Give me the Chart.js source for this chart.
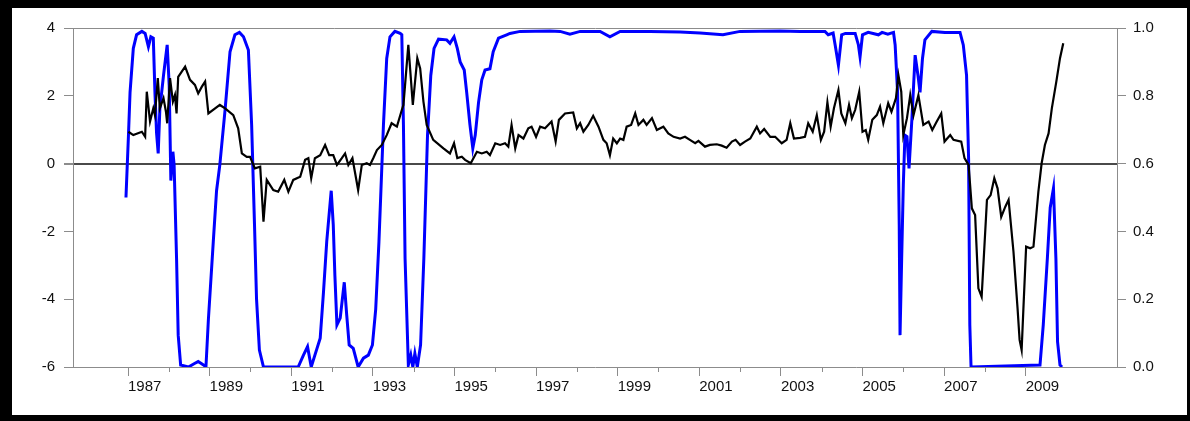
<!DOCTYPE html>
<html>
<head>
<meta charset="utf-8">
<script src="https://cdn.jsdelivr.net/npm/chart.js@4/dist/chart.umd.min.js"></script>
<style>
  html, body { margin: 0; padding: 0; background: #fff; }
  #wrap { width: 1190px; height: 421px; }
</style>
</head>
<body>
<div id="wrap"><canvas id="chart" width="1190" height="421"></canvas></div>
<script>
// Black series (left axis), decimal years and values
const blackYears = [
  1987.01, 1987.13, 1987.34, 1987.42, 1987.46, 1987.54, 1987.62, 1987.66, 1987.73, 1987.78,
  1987.87, 1987.93, 1987.96, 1988.03, 1988.10, 1988.15, 1988.19, 1988.23, 1988.40, 1988.52,
  1988.64, 1988.72, 1988.81, 1988.89, 1988.97, 1989.25, 1989.38, 1989.58, 1989.70, 1989.79,
  1989.91, 1989.99, 1990.11, 1990.24, 1990.32, 1990.40, 1990.56, 1990.68, 1990.83, 1990.93,
  1991.05, 1991.22, 1991.34, 1991.42, 1991.49, 1991.58, 1991.71, 1991.83, 1991.93, 1992.03,
  1992.12, 1992.24, 1992.32, 1992.40, 1992.50, 1992.56, 1992.64, 1992.73, 1992.85, 1992.93,
  1993.01, 1993.10, 1993.22, 1993.34, 1993.46, 1993.59, 1993.71, 1993.75, 1993.87, 1993.98,
  1994.09, 1994.16, 1994.24, 1994.32, 1994.48, 1994.73, 1994.89, 1994.99, 1995.07, 1995.18,
  1995.26, 1995.40, 1995.55, 1995.67, 1995.79, 1995.87, 1996.00, 1996.12, 1996.24, 1996.32,
  1996.40, 1996.49, 1996.57, 1996.69, 1996.81, 1996.89, 1997.00, 1997.10, 1997.22, 1997.38,
  1997.48, 1997.56, 1997.71, 1997.91, 1998.00, 1998.08, 1998.16, 1998.28, 1998.40, 1998.53,
  1998.65, 1998.73, 1998.81, 1998.89, 1998.98, 1999.06, 1999.14, 1999.22, 1999.33, 1999.43,
  1999.51, 1999.63, 1999.71, 1999.84, 1999.96, 2000.12, 2000.24, 2000.37, 2000.53, 2000.65,
  2000.77, 2000.90, 2000.98, 2001.14, 2001.26, 2001.43, 2001.55, 2001.67, 2001.80, 2001.89,
  2002.00, 2002.12, 2002.25, 2002.41, 2002.49, 2002.59, 2002.74, 2002.86, 2003.02, 2003.14,
  2003.23, 2003.32, 2003.47, 2003.59, 2003.67, 2003.78, 2003.88, 2003.98, 2004.06, 2004.14,
  2004.22, 2004.30, 2004.41, 2004.48, 2004.58, 2004.67, 2004.74, 2004.82, 2004.92, 2005.00,
  2005.08, 2005.14, 2005.24, 2005.35, 2005.43, 2005.51, 2005.63, 2005.71, 2005.82, 2005.88,
  2005.95, 2006.00, 2006.09, 2006.17, 2006.25, 2006.37, 2006.49, 2006.62, 2006.71, 2006.82,
  2006.93, 2007.01, 2007.15, 2007.23, 2007.42, 2007.50, 2007.60, 2007.68, 2007.76, 2007.84,
  2007.92, 2008.05, 2008.14, 2008.23, 2008.31, 2008.40, 2008.50, 2008.58, 2008.70, 2008.80,
  2008.85, 2008.90, 2008.94, 2009.01, 2009.11, 2009.19, 2009.31, 2009.39, 2009.47, 2009.56,
  2009.64, 2009.75, 2009.84, 2009.92
];
const blackValues = [
  0.94, 0.84, 0.94, 0.79, 2.12, 1.24, 1.63, 1.43, 2.52, 1.63,
  1.93, 1.53, 1.19, 2.52, 1.83, 2.02, 1.48, 2.56, 2.86, 2.47,
  2.32, 2.07, 2.27, 2.42, 1.48, 1.73, 1.63, 1.43, 1.04, 0.30,
  0.20, 0.20, -0.14, -0.09, -1.71, -0.48, -0.78, -0.83, -0.48, -0.83,
  -0.48, -0.39, 0.11, 0.16, -0.43, 0.16, 0.25, 0.55, 0.25, 0.25,
  -0.04, 0.16, 0.30, -0.04, 0.16, -0.24, -0.78, -0.04, 0.01, -0.04,
  0.16, 0.40, 0.55, 0.84, 1.19, 1.09, 1.58, 1.73, 3.50, 1.73,
  3.11, 2.81, 1.83, 1.14, 0.70, 0.45, 0.30, 0.60, 0.16, 0.20,
  0.11, 0.01, 0.35, 0.30, 0.35, 0.25, 0.60, 0.55, 0.60, 0.50,
  1.14, 0.45, 0.84, 0.74, 1.04, 1.09, 0.79, 1.09, 1.04, 1.24,
  0.65, 1.29, 1.48, 1.51, 1.04, 1.19, 0.94, 1.14, 1.41, 1.09,
  0.70, 0.60, 0.25, 0.74, 0.60, 0.74, 0.70, 1.09, 1.14, 1.48,
  1.14, 1.29, 1.14, 1.34, 0.99, 1.09, 0.89, 0.79, 0.74, 0.79,
  0.70, 0.60, 0.67, 0.50, 0.55, 0.57, 0.53, 0.47, 0.65, 0.70,
  0.55, 0.65, 0.74, 1.09, 0.89, 1.02, 0.79, 0.79, 0.60, 0.70,
  1.19, 0.74, 0.76, 0.79, 1.19, 0.94, 1.43, 0.70, 0.94, 1.81,
  1.09, 1.63, 2.17, 1.48, 1.19, 1.73, 1.34, 1.58, 2.12, 0.94,
  0.99, 0.70, 1.29, 1.43, 1.68, 1.19, 1.78, 1.53, 1.93, 2.61,
  2.12, 0.84, 1.34, 2.02, 1.43, 2.02, 1.14, 1.24, 0.99, 1.24,
  1.48, 0.65, 0.84, 0.70, 0.65, 0.16, -0.04, -1.32, -1.52, -3.68,
  -3.93, -1.07, -0.93, -0.43, -0.73, -1.57, -1.27, -1.07, -2.60, -4.27,
  -5.20, -5.50, -4.37, -2.45, -2.50, -2.45, -0.83, 0.01, 0.55, 0.89,
  1.63, 2.42, 3.11, 3.55
];

// Blue series (right axis, 0..1)
const blueYears = [
  1986.95, 1987.01, 1987.05, 1987.13, 1987.21, 1987.34, 1987.42, 1987.50, 1987.56, 1987.62,
  1987.66, 1987.70, 1987.74, 1987.78, 1987.87, 1987.96, 1988.01, 1988.05, 1988.10, 1988.13,
  1988.19, 1988.23, 1988.29, 1988.48, 1988.64, 1988.72, 1988.85, 1988.91, 1988.97, 1989.09,
  1989.17, 1989.25, 1989.38, 1989.50, 1989.62, 1989.73, 1989.83, 1989.95, 1990.03, 1990.10,
  1990.15, 1990.22, 1990.32, 1991.17, 1991.30, 1991.40, 1991.49, 1991.58, 1991.71, 1991.79,
  1991.87, 1991.98, 1992.03, 1992.07, 1992.12, 1992.20, 1992.30, 1992.36, 1992.42, 1992.52,
  1992.64, 1992.77, 1992.89, 1992.99, 1993.07, 1993.15, 1993.26, 1993.34, 1993.42, 1993.54,
  1993.67, 1993.71, 1993.75, 1993.79, 1993.87, 1993.93, 1993.98, 1994.03, 1994.09, 1994.17,
  1994.25, 1994.34, 1994.42, 1994.50, 1994.61, 1994.81, 1994.89, 1994.99, 1995.07, 1995.14,
  1995.24, 1995.30, 1995.38, 1995.45, 1995.51, 1995.59, 1995.67, 1995.75, 1995.87, 1995.95,
  1996.08, 1996.28, 1996.36, 1996.61, 1997.34, 1997.59, 1997.83, 1998.08, 1998.57, 1998.81,
  1999.06, 1999.79, 2000.53, 2001.02, 2001.58, 2002.00, 2002.98, 2003.47, 2004.08, 2004.16,
  2004.28, 2004.33, 2004.41, 2004.49, 2004.58, 2004.82, 2004.90, 2004.94, 2005.00, 2005.14,
  2005.39, 2005.48, 2005.62, 2005.76, 2005.80, 2005.86, 2005.90, 2005.92, 2005.96, 2006.00,
  2006.04, 2006.09, 2006.14, 2006.21, 2006.29, 2006.36, 2006.41, 2006.47, 2006.53, 2006.70,
  2007.02, 2007.39, 2007.47, 2007.55, 2007.60, 2007.63, 2007.66, 2009.35, 2009.43, 2009.53,
  2009.60, 2009.68, 2009.74, 2009.78, 2009.84, 2009.89
];
const blueProbs = [
  0.50, 0.68, 0.81, 0.94, 0.98, 0.99, 0.984, 0.945, 0.974, 0.97,
  0.81, 0.69, 0.63, 0.76, 0.86, 0.95, 0.83, 0.55, 0.635, 0.596,
  0.32, 0.094, 0.006, 0.0, 0.011, 0.016, 0.006, 0.0, 0.14, 0.37,
  0.52, 0.596, 0.76, 0.93, 0.98, 0.987, 0.974, 0.935, 0.714, 0.42,
  0.20, 0.05, 0.0, 0.0, 0.035, 0.06, 0.0, 0.035, 0.085, 0.22,
  0.37, 0.52, 0.42, 0.27, 0.124, 0.144, 0.25, 0.153, 0.065, 0.055,
  0.0, 0.026, 0.035, 0.065, 0.17, 0.37, 0.714, 0.91, 0.974, 0.99,
  0.984, 0.98, 0.714, 0.32, 0.006, 0.035, 0.0, 0.04, 0.0, 0.065,
  0.32, 0.684, 0.86, 0.94, 0.967, 0.965, 0.955, 0.974, 0.94, 0.90,
  0.876, 0.81, 0.714, 0.645, 0.684, 0.78, 0.847, 0.876, 0.88, 0.93,
  0.97, 0.98, 0.984, 0.99, 0.991, 0.99, 0.982, 0.99, 0.99, 0.974,
  0.99, 0.99, 0.988, 0.985, 0.98, 0.99, 0.991, 0.99, 0.99, 0.98,
  0.985, 0.95, 0.89, 0.98, 0.984, 0.984, 0.95, 0.915, 0.98, 0.987,
  0.98, 0.987, 0.982, 0.987, 0.95, 0.81, 0.42, 0.094, 0.32, 0.537,
  0.684, 0.68, 0.586, 0.73, 0.92, 0.86, 0.81, 0.91, 0.965, 0.99,
  0.987, 0.987, 0.95, 0.86, 0.616, 0.124, 0.0, 0.006, 0.124, 0.32,
  0.47, 0.527, 0.32, 0.075, 0.006, 0.0
];

// Year ticks on the x axis; odd years carry a label
const yearTicks = [
  1987, 1988, 1989, 1990, 1991, 1992, 1993, 1994, 1995, 1996, 1997, 1998,
  1999, 2000, 2001, 2002, 2003, 2004, 2005, 2006, 2007, 2008, 2009
];
const leftTicks = [-6, -4, -2, 0, 2, 4];
const rightTicks = [0, 0.2, 0.4, 0.6, 0.8, 1.0];

const axisGray = "#8c8c8c";
const labelFont = { family: "'Liberation Sans', Arial, sans-serif", size: 15 };

// black outer frame around a white card
const framePlugin = {
  id: "frame",
  beforeDraw(chart) {
    const { ctx, width, height } = chart;
    ctx.save();
    ctx.fillStyle = "#000";
    ctx.fillRect(0, 0, width, height);
    ctx.fillStyle = "#fff";
    ctx.fillRect(12, 8, width - 15, height - 14);
    ctx.restore();
  },
};

// short ticks for the unlabeled (even) years
const minorTicks = {
  id: "minorTicks",
  afterDraw(chart) {
    const x = chart.scales.x;
    const ctx = chart.ctx;
    ctx.save();
    ctx.strokeStyle = axisGray;
    ctx.lineWidth = 1;
    yearTicks.forEach((yr) => {
      if (yr % 2 === 0) {
        const px = Math.round(x.getPixelForValue(yr)) + 0.5;
        ctx.beginPath();
        ctx.moveTo(px, x.top);
        ctx.lineTo(px, x.top + 5);
        ctx.stroke();
      }
    });
    ctx.restore();
  },
};

const ctx = document.getElementById("chart").getContext("2d");
new Chart(ctx, {
  type: "line",
  data: {
    datasets: [
      {
        label: "black",
        data: blackYears.map((yr, i) => ({ x: yr, y: blackValues[i] })),
        borderColor: "#000000",
        borderWidth: 2.2,
        pointRadius: 0,
        tension: 0,
        yAxisID: "y",
        order: 1,
      },
      {
        label: "blue",
        data: blueYears.map((yr, i) => ({ x: yr, y: blueProbs[i] })),
        borderColor: "#0000ff",
        borderWidth: 3,
        pointRadius: 0,
        tension: 0,
        yAxisID: "y1",
        order: 2,
      },
    ],
  },
  options: {
    responsive: false,
    animation: false,
    events: [],
    layout: { padding: { top: 28, left: 0, right: 0, bottom: 0 } },
    plugins: { legend: { display: false }, tooltip: { enabled: false } },
    scales: {
      x: {
        type: "linear",
        min: 1985.652,
        max: 2011.237,
        afterBuildTicks: (scale) => {
          scale.ticks = yearTicks.map((v) => ({ value: v }));
        },
        afterFit: (scale) => { scale.height = 54; },
        border: { display: true, color: axisGray, width: 1 },
        grid: {
          drawOnChartArea: false,
          drawTicks: true,
          tickLength: 9,
          tickColor: (c) => (c.tick && c.tick.value % 2 === 1 ? axisGray : "rgba(0,0,0,0)"),
        },
        ticks: {
          autoSkip: false,
          maxRotation: 0,
          align: "start",
          padding: 2,
          color: "#111",
          font: labelFont,
          callback: (v) => (v % 2 === 1 ? String(v) : ""),
        },
      },
      y: {
        position: "left",
        min: -6,
        max: 4,
        afterBuildTicks: (scale) => {
          scale.ticks = leftTicks.map((v) => ({ value: v }));
        },
        afterFit: (scale) => { scale.width = 73; },
        border: { display: true, color: axisGray, width: 1 },
        grid: {
          drawOnChartArea: true,
          tickLength: 9,
          tickColor: axisGray,
          color: (c) => (c.tick.value === 0 ? "#4a4a4a" : c.tick.value === 4 ? axisGray : "rgba(0,0,0,0)"),
          lineWidth: (c) => (c.tick.value === 0 ? 2 : 1),
        },
        ticks: {
          padding: 9,
          color: "#111",
          font: labelFont,
          callback: (v) => String(v),
        },
      },
      y1: {
        position: "right",
        min: 0,
        max: 1,
        afterBuildTicks: (scale) => {
          scale.ticks = rightTicks.map((v) => ({ value: v }));
        },
        afterFit: (scale) => { scale.width = 73; },
        border: { display: true, color: axisGray, width: 1 },
        grid: {
          drawOnChartArea: false,
          tickLength: 9,
          tickColor: axisGray,
        },
        ticks: {
          padding: 7,
          color: "#111",
          font: labelFont,
          callback: (v) => Number(v).toFixed(1),
        },
      },
    },
  },
  plugins: [framePlugin, minorTicks],
});
</script>
</body>
</html>
